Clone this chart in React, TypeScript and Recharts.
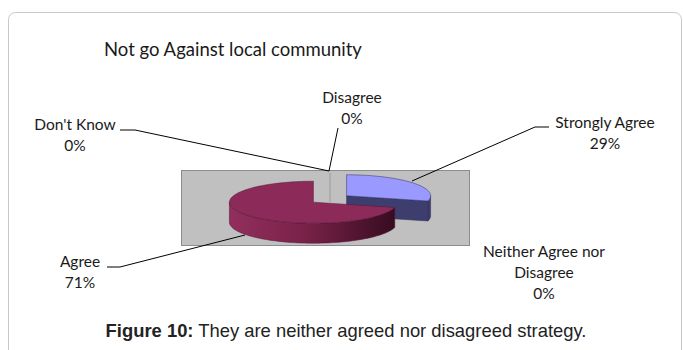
import React from 'react';
import { PieChart, Pie, Customized } from 'recharts';

const categories = ['Strongly Agree', 'Neither Agree nor Disagree', 'Agree', "Don't Know", 'Disagree'];
const values = [29, 0, 71, 0, 0];
const topColors = ['#9999ff', '#9999ff', '#8c2b59', '#8c2b59', '#8c2b59'];
const sideColors = ['#3d3d6e', '#3d3d6e', 'url(#agreeSide)', 'url(#agreeSide)', 'url(#agreeSide)'];
const edgeColors = ['#2e2e5c', '#2e2e5c', '#551634', '#551634', '#551634'];

// label text lines, split the way the original chart wraps them
const labelLines = [
  ['Strongly Agree'],
  ['Neither Agree nor', 'Disagree'],
  ['Agree'],
  ["Don't Know"],
  ['Disagree'],
];

const title = 'Not go Against local community';
const captionBold = 'Figure 10:';
const captionText = ' They are neither agreed nor disagreed strategy.';

const W = 683;
const H = 350;
const TILT = 0.25;
const DEPTH = 20;
const EXPLODE = 21;
const RAD = Math.PI / 180;
const LABEL_FONT = 'Lato, "Open Sans", sans-serif';

// where each label sits and how its leader line runs (chart layout, not data)
const labelLayout = [
  { x: 605, y: 128, line: [[549, 127], [535, 127], [412, 181]] },
  { x: 544, y: 257, line: [] },
  { x: 80, y: 267, line: [[107, 267], [120, 267], [245, 235]] },
  { x: 75, y: 130, line: [[120, 130], [135, 130], [329, 171]] },
  { x: 352, y: 103, line: [[338, 128], [329, 171]] },
];

const data = categories.map((name, i) => ({ name, value: values[i] }));
const total = values.reduce((a, b) => a + b, 0);

const Slice3D = (props: any) => {
  const { cx, cy, outerRadius: r, startAngle, endAngle, index } = props;
  const span = Math.abs(startAngle - endAngle);
  const mid = (startAngle + endAngle) / 2;
  const ox = cx + EXPLODE * Math.cos(mid * RAD);
  const oy = cy - EXPLODE * TILT * Math.sin(mid * RAD);
  const pt = (a: number, dz = 0) => [ox + r * Math.cos(a * RAD), oy - r * TILT * Math.sin(a * RAD) + dz];

  if (span < 0.01) {
    if (Math.sin(mid * RAD) < 0.5) return <g />;
    const p = pt(mid);
    return <line x1={p[0]} y1={p[1]} x2={ox} y2={oy + 8} stroke="#a8a8a8" strokeWidth={1} />;
  }

  const lo = Math.min(startAngle, endAngle);
  const hi = Math.max(startAngle, endAngle);
  const arc = (s: number, e: number, dz = 0) => {
    const n = Math.max(6, Math.ceil(Math.abs(e - s) / 2));
    const pts: number[][] = [];
    for (let k = 0; k <= n; k++) pts.push(pt(s + ((e - s) * k) / n, dz));
    return pts;
  };
  const toPath = (pts: number[][]) =>
    pts.map((p, k) => `${k === 0 ? 'M' : 'L'}${p[0].toFixed(2)},${p[1].toFixed(2)}`).join(' ') + ' Z';

  const walls: React.ReactNode[] = [];
  for (let n = Math.floor(lo / 360) - 1; n <= Math.ceil(hi / 360); n++) {
    const s = Math.max(lo, 180 + 360 * n);
    const e = Math.min(hi, 360 + 360 * n);
    if (e > s) {
      const pts = [...arc(s, e), ...arc(e, s, DEPTH)];
      walls.push(
        <path key={`w${n}`} d={toPath(pts)} fill={sideColors[index]} stroke={edgeColors[index]} strokeWidth={0.5} />
      );
    }
  }

  const faces: React.ReactNode[] = [];
  [lo, hi].forEach((a, k) => {
    const visible = k === 0 ? Math.cos(a * RAD) > 0.001 : Math.cos(a * RAD) < -0.001;
    if (!visible) return;
    const pts = [[ox, oy], pt(a), pt(a, DEPTH), [ox, oy + DEPTH]];
    faces.push(
      <path key={`f${k}`} d={toPath(pts)} fill={sideColors[index]} stroke={edgeColors[index]} strokeWidth={0.5} />
    );
  });

  const top = [[ox, oy], ...arc(lo, hi)];

  return (
    <g>
      {walls}
      {faces}
      <path d={toPath(top)} fill={topColors[index]} stroke={edgeColors[index]} strokeWidth={0.5} />
    </g>
  );
};

const Background = () => (
  <g>
    <defs>
      <linearGradient id="agreeSide" x1="0" y1="0" x2="1" y2="0">
        <stop offset="0%" stopColor="#922e5d" />
        <stop offset="45%" stopColor="#7a2249" />
        <stop offset="100%" stopColor="#360c20" />
      </linearGradient>
    </defs>
    <rect x={8.5} y={12.5} width={673} height={360} rx={7} fill="#ffffff" stroke="#c8c8c8" strokeWidth={1} />
    <rect x={181.5} y={170.5} width={288} height={75} fill="#c0c0c0" stroke="#8c8c8c" strokeWidth={1} />
    <text x={104} y={56} fontFamily={LABEL_FONT} fontSize={18.5} fill="#1a1a1a">
      {title}
    </text>
  </g>
);

const Labels = () => (
  <g fontFamily={LABEL_FONT} fontSize={15.5} fill="#1a1a1a">
    {labelLayout.map((l, i) => {
      const pct = `${Math.round((values[i] / total) * 100)}%`;
      const lines = [...labelLines[i], pct];
      return (
        <g key={categories[i]}>
          {l.line.length > 0 && (
            <polyline
              points={l.line.map((p) => p.join(',')).join(' ')}
              fill="none"
              stroke="#000000"
              strokeWidth={1}
            />
          )}
          {lines.map((t, k) => (
            <text key={k} x={l.x} y={l.y + k * 21} textAnchor="middle">
              {t}
            </text>
          ))}
        </g>
      );
    })}
    <text x={346} y={337} textAnchor="middle" fontFamily='"Liberation Sans", Arial, sans-serif' fontSize={18.4} fill="#222">
      <tspan fontWeight="bold">{captionBold}</tspan>
      <tspan>{captionText}</tspan>
    </text>
  </g>
);

export default function App() {
  return (
    <div style={{ position: 'absolute', left: 0, top: 0, width: W, height: H, background: '#fff' }}>
      <PieChart width={W} height={H} margin={{ top: 0, right: 0, bottom: 0, left: 0 }}>
        <Customized component={Background} />
        <Pie
          data={data}
          dataKey="value"
          nameKey="name"
          cx={330}
          cy={199}
          outerRadius={84}
          startAngle={90}
          endAngle={-270}
          label={false}
          labelLine={false}
          isAnimationActive={false}
          shape={Slice3D}
          activeShape={Slice3D}
          inactiveShape={Slice3D}
          stroke="none"
        />
        <Customized component={Labels} />
      </PieChart>
    </div>
  );
}
